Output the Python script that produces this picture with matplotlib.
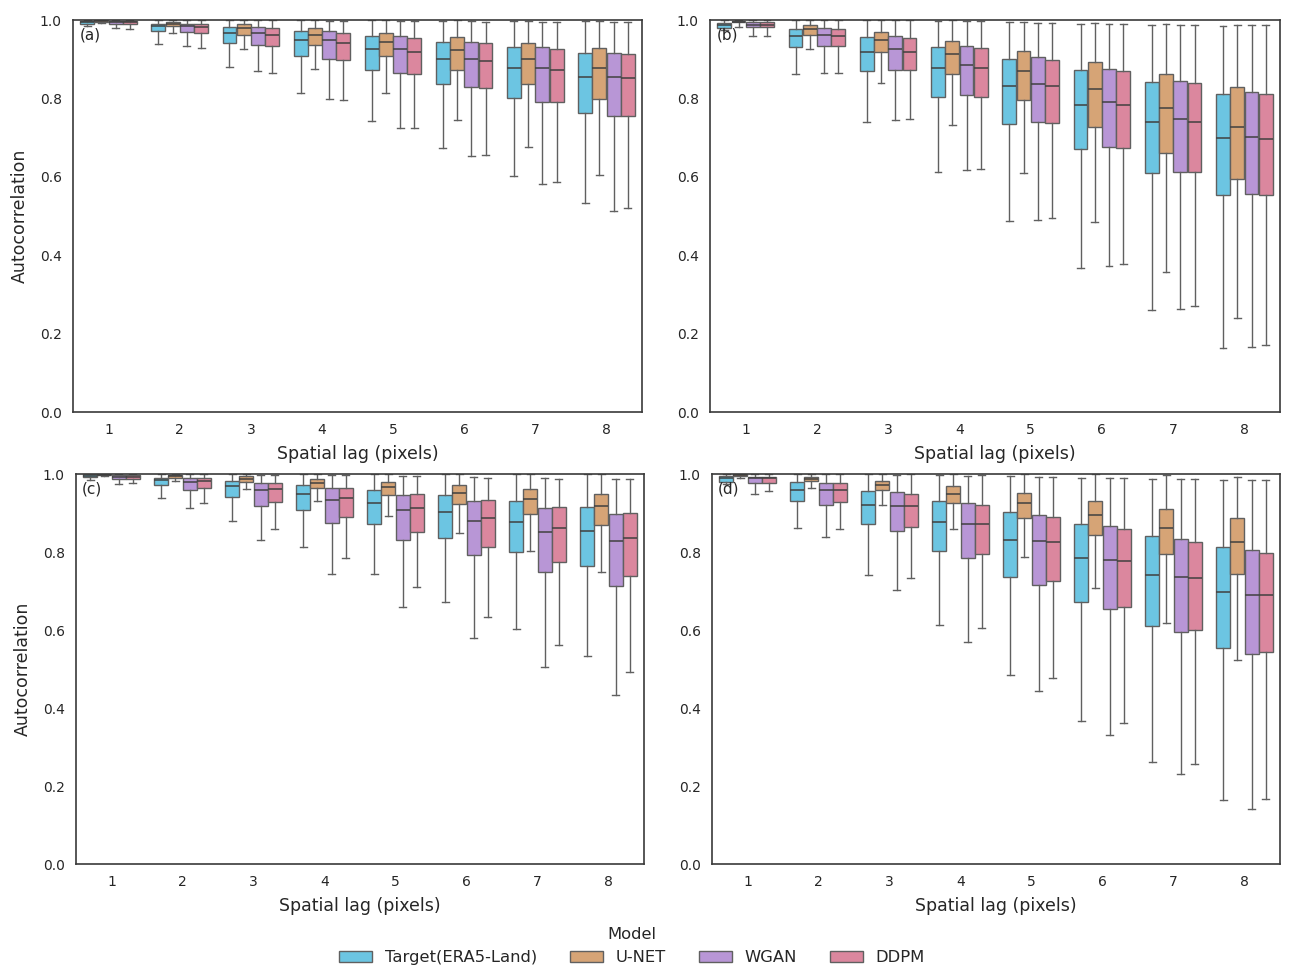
import numpy as np
import matplotlib
matplotlib.use("Agg")
import matplotlib.pyplot as plt
from matplotlib.patches import Patch

# ── data ────────────────────────────────────────────────────
lags   = [1, 2, 3, 4, 5, 6, 7, 8]
models = ["Target(ERA5-Land)", "U-NET", "WGAN", "DDPM"]
colors = ["#6cc5e2", "#d6a476", "#b896d6", "#db879e"]
panel_tags = ["(a)", "(b)", "(c)", "(d)"]

# rows: Target, U-NET, WGAN, DDPM ; columns: lag 1..8
a_lo  = [[0.984, 0.939, 0.879, 0.813, 0.743, 0.673, 0.603, 0.533],
         [0.992, 0.967, 0.926, 0.874, 0.813, 0.746, 0.675, 0.604],
         [0.980, 0.934, 0.870, 0.798, 0.724, 0.652, 0.582, 0.514],
         [0.977, 0.929, 0.865, 0.795, 0.724, 0.655, 0.587, 0.521]]
a_q1  = [[0.990, 0.971, 0.941, 0.907, 0.872, 0.836, 0.800, 0.762],
         [0.995, 0.985, 0.963, 0.937, 0.907, 0.872, 0.836, 0.798],
         [0.990, 0.969, 0.937, 0.901, 0.865, 0.828, 0.792, 0.755],
         [0.989, 0.966, 0.934, 0.898, 0.862, 0.826, 0.792, 0.756]]
a_med = [[0.995, 0.985, 0.967, 0.948, 0.925, 0.901, 0.878, 0.855],
         [0.997, 0.991, 0.979, 0.963, 0.945, 0.924, 0.901, 0.877],
         [0.995, 0.985, 0.967, 0.948, 0.925, 0.901, 0.878, 0.855],
         [0.994, 0.981, 0.963, 0.942, 0.919, 0.896, 0.873, 0.851]]
a_q3  = [[0.998, 0.990, 0.981, 0.971, 0.958, 0.945, 0.930, 0.916],
         [0.999, 0.996, 0.989, 0.979, 0.968, 0.956, 0.942, 0.928],
         [0.998, 0.991, 0.983, 0.971, 0.958, 0.945, 0.930, 0.916],
         [0.998, 0.990, 0.979, 0.967, 0.953, 0.941, 0.926, 0.912]]
a_hi  = [[0.999, 0.999, 0.999, 0.999, 0.999, 0.998, 0.998, 0.997],
         [1.000, 0.999, 0.999, 0.999, 0.999, 0.999, 0.998, 0.998],
         [0.999, 0.999, 0.999, 0.998, 0.998, 0.997, 0.996, 0.994],
         [0.999, 0.999, 0.999, 0.998, 0.997, 0.996, 0.994, 0.994]]

b_lo  = [[0.975, 0.861, 0.741, 0.612, 0.486, 0.367, 0.261, 0.162],
         [0.983, 0.925, 0.840, 0.731, 0.610, 0.484, 0.358, 0.241],
         [0.959, 0.866, 0.745, 0.617, 0.491, 0.372, 0.264, 0.165],
         [0.959, 0.866, 0.747, 0.621, 0.496, 0.378, 0.270, 0.170]]
b_q1  = [[0.980, 0.932, 0.870, 0.803, 0.735, 0.670, 0.610, 0.553],
         [0.994, 0.962, 0.918, 0.861, 0.797, 0.728, 0.660, 0.594],
         [0.981, 0.934, 0.873, 0.808, 0.740, 0.675, 0.613, 0.555],
         [0.981, 0.933, 0.872, 0.804, 0.738, 0.673, 0.611, 0.554]]
b_med = [[0.987, 0.959, 0.919, 0.877, 0.831, 0.784, 0.741, 0.698],
         [0.996, 0.976, 0.948, 0.912, 0.869, 0.823, 0.776, 0.728],
         [0.987, 0.963, 0.926, 0.884, 0.838, 0.792, 0.747, 0.701],
         [0.987, 0.959, 0.919, 0.877, 0.831, 0.784, 0.740, 0.696]]
b_q3  = [[0.993, 0.978, 0.956, 0.930, 0.901, 0.872, 0.842, 0.811],
         [0.998, 0.986, 0.969, 0.947, 0.920, 0.892, 0.861, 0.830],
         [0.994, 0.980, 0.960, 0.934, 0.906, 0.876, 0.845, 0.816],
         [0.994, 0.976, 0.954, 0.928, 0.899, 0.869, 0.839, 0.810]]
b_hi  = [[0.999, 0.999, 0.999, 0.998, 0.995, 0.991, 0.988, 0.985],
         [1.000, 0.999, 0.999, 0.999, 0.996, 0.992, 0.990, 0.988],
         [0.999, 0.999, 0.999, 0.997, 0.993, 0.990, 0.988, 0.986],
         [0.999, 0.999, 0.999, 0.997, 0.993, 0.990, 0.988, 0.986]]

c_lo  = [[0.985, 0.938, 0.880, 0.814, 0.743, 0.673, 0.603, 0.533],
         [0.995, 0.983, 0.961, 0.930, 0.892, 0.850, 0.802, 0.749],
         [0.974, 0.912, 0.830, 0.744, 0.659, 0.579, 0.504, 0.434],
         [0.976, 0.925, 0.858, 0.785, 0.709, 0.633, 0.561, 0.492]]
c_q1  = [[0.992, 0.971, 0.942, 0.908, 0.872, 0.837, 0.799, 0.763],
         [0.997, 0.991, 0.979, 0.963, 0.945, 0.922, 0.897, 0.870],
         [0.988, 0.958, 0.919, 0.875, 0.832, 0.792, 0.750, 0.712],
         [0.988, 0.963, 0.929, 0.891, 0.852, 0.813, 0.774, 0.738]]
c_med = [[0.996, 0.985, 0.968, 0.948, 0.925, 0.902, 0.878, 0.855],
         [0.998, 0.994, 0.986, 0.977, 0.966, 0.952, 0.935, 0.919],
         [0.993, 0.979, 0.958, 0.934, 0.907, 0.880, 0.852, 0.827],
         [0.993, 0.983, 0.961, 0.938, 0.912, 0.886, 0.861, 0.836]]
c_q3  = [[0.999, 0.991, 0.983, 0.971, 0.958, 0.945, 0.931, 0.916],
         [0.999, 0.997, 0.994, 0.986, 0.979, 0.971, 0.961, 0.950],
         [0.997, 0.989, 0.978, 0.963, 0.947, 0.930, 0.914, 0.897],
         [0.997, 0.989, 0.977, 0.963, 0.948, 0.933, 0.916, 0.900]]
c_hi  = [[1.000, 0.999, 0.999, 0.999, 0.999, 0.999, 0.999, 0.999],
         [1.000, 0.999, 0.999, 0.999, 0.999, 0.999, 0.999, 0.999],
         [0.999, 0.999, 0.998, 0.997, 0.995, 0.993, 0.990, 0.988],
         [0.999, 0.999, 0.998, 0.997, 0.994, 0.991, 0.988, 0.987]]

d_lo  = [[0.975, 0.862, 0.742, 0.612, 0.485, 0.367, 0.262, 0.163],
         [0.990, 0.964, 0.920, 0.860, 0.788, 0.707, 0.617, 0.522],
         [0.948, 0.838, 0.702, 0.568, 0.443, 0.330, 0.232, 0.140],
         [0.956, 0.858, 0.733, 0.604, 0.477, 0.361, 0.257, 0.166]]
d_q1  = [[0.980, 0.932, 0.871, 0.803, 0.736, 0.672, 0.610, 0.553],
         [0.996, 0.981, 0.958, 0.925, 0.887, 0.843, 0.794, 0.743],
         [0.976, 0.921, 0.853, 0.784, 0.715, 0.653, 0.595, 0.539],
         [0.978, 0.929, 0.863, 0.794, 0.725, 0.660, 0.600, 0.544]]
d_med = [[0.989, 0.960, 0.921, 0.878, 0.832, 0.785, 0.742, 0.698],
         [0.998, 0.987, 0.972, 0.950, 0.925, 0.895, 0.862, 0.825],
         [0.989, 0.959, 0.919, 0.873, 0.827, 0.779, 0.735, 0.691],
         [0.989, 0.959, 0.919, 0.873, 0.825, 0.778, 0.733, 0.689]]
d_q3  = [[0.995, 0.979, 0.956, 0.931, 0.902, 0.872, 0.842, 0.812],
         [0.999, 0.993, 0.982, 0.968, 0.952, 0.932, 0.911, 0.886],
         [0.993, 0.978, 0.954, 0.926, 0.896, 0.866, 0.834, 0.804],
         [0.993, 0.976, 0.950, 0.921, 0.890, 0.858, 0.826, 0.797]]
d_hi  = [[0.999, 0.999, 0.999, 0.998, 0.995, 0.991, 0.988, 0.985],
         [1.000, 0.999, 0.999, 0.999, 0.999, 0.999, 0.997, 0.993],
         [0.999, 0.999, 0.998, 0.996, 0.993, 0.990, 0.987, 0.985],
         [0.999, 0.999, 0.999, 0.998, 0.993, 0.990, 0.987, 0.985]]

panels = [
    (a_lo, a_q1, a_med, a_q3, a_hi),
    (b_lo, b_q1, b_med, b_q3, b_hi),
    (c_lo, c_q1, c_med, c_q3, c_hi),
    (d_lo, d_q1, d_med, d_q3, d_hi),
]

# ── figure ──────────────────────────────────────────────────
plt.rcParams["font.family"] = "DejaVu Sans"
text_col = "#262626"
line_col = "#606060"

fig = plt.figure(figsize=(12.95, 9.77), dpi=100, facecolor="white")
W, H = 1295, 977
boxes_px = [(73, 20, 642, 412), (710, 20, 1280, 412),
            (76, 474, 644, 864), (712, 474, 1280, 864)]
axes = [fig.add_axes([l / W, 1 - b / H, (r - l) / W, (b - t) / H])
        for l, t, r, b in boxes_px]

x = np.arange(len(lags))
width = 0.2

for k, (ax, (lo, q1, med, q3, hi)) in enumerate(zip(axes, panels)):
    for m in range(len(models)):
        stats = []
        for i in range(len(lags)):
            stats.append(dict(whislo=lo[m][i], q1=q1[m][i], med=med[m][i],
                              q3=q3[m][i], whishi=hi[m][i], fliers=[]))
        pos = x + (m - 1.5) * width
        ax.bxp(stats, positions=pos, widths=width * 0.98, patch_artist=True,
               showfliers=False, manage_ticks=False,
               boxprops=dict(facecolor=colors[m], edgecolor=line_col, linewidth=1.0),
               medianprops=dict(color="#404040", linewidth=1.1),
               whiskerprops=dict(color=line_col, linewidth=1.0),
               capprops=dict(color=line_col, linewidth=1.0))

    ax.set_xlim(-0.5, len(lags) - 0.5)
    ax.set_ylim(0, 1.0)
    ax.set_xticks(x)
    ax.set_xticklabels([str(v) for v in lags])
    ax.set_yticks(np.arange(0, 1.01, 0.2))
    ax.set_yticklabels([f"{v:.1f}" for v in np.arange(0, 1.01, 0.2)])
    ax.tick_params(length=0, labelsize=10, colors=text_col, pad=8)
    ax.set_xlabel("Spatial lag (pixels)", fontsize=12.5, color=text_col, labelpad=6)
    if k % 2 == 0:
        ax.set_ylabel("Autocorrelation", fontsize=12.5, color=text_col, labelpad=8)
    for spine in ax.spines.values():
        spine.set_edgecolor("#3a3a3a")
        spine.set_linewidth(1.2)
    ax.text(0.011, 0.982, panel_tags[k], transform=ax.transAxes,
            ha="left", va="top", fontsize=11, color=text_col)

handles = [Patch(facecolor=c, edgecolor=line_col, label=lab)
           for c, lab in zip(colors, models)]
leg = fig.legend(handles=handles, title="Model", ncol=4, loc="lower center",
                 bbox_to_anchor=(0.488, -0.003), frameon=False,
                 fontsize=11.8, title_fontsize=11.8)
for t in leg.get_texts():
    t.set_color(text_col)
leg.get_title().set_color(text_col)

fig.savefig("out.png", dpi=100, facecolor="white")
